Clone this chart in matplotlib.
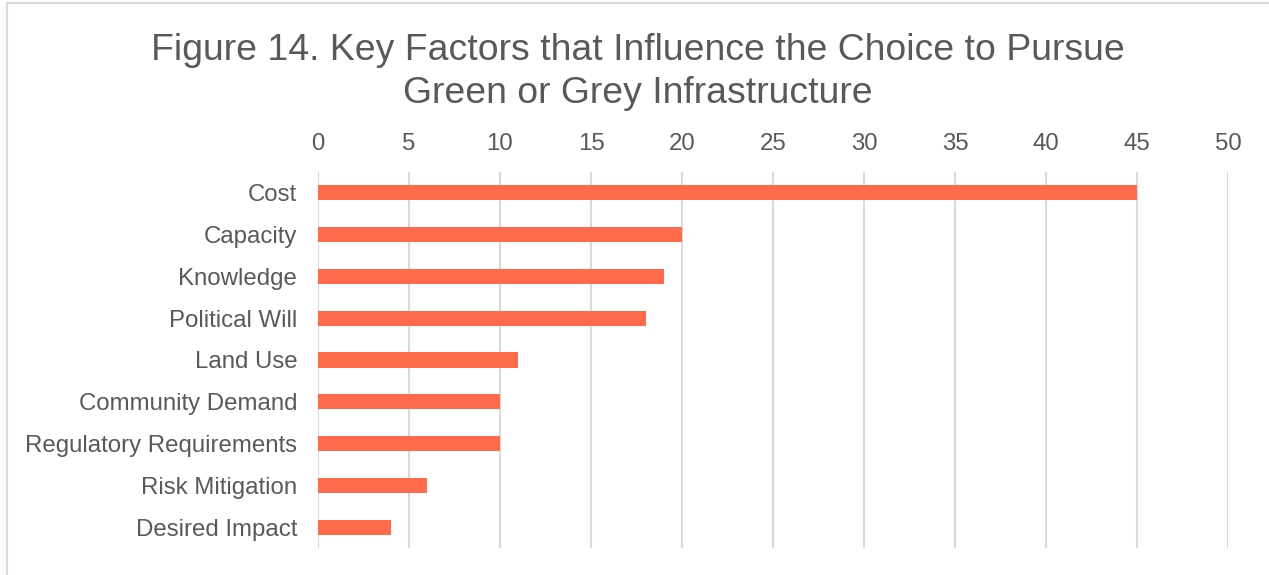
import matplotlib
matplotlib.use("Agg")
import matplotlib.pyplot as plt
from matplotlib.patches import Rectangle

# data
factors = ["Cost", "Capacity", "Knowledge", "Political Will", "Land Use",
           "Community Demand", "Regulatory Requirements", "Risk Mitigation",
           "Desired Impact"]
counts = [45, 20, 19, 18, 11, 10, 10, 6, 4]
xticks = [0, 5, 10, 15, 20, 25, 30, 35, 40, 45, 50]

plt.rcParams['font.family'] = ['Liberation Sans', 'DejaVu Sans']
txt = '#595959'
grid = '#D9D9D9'

fig = plt.figure(figsize=(12.69, 5.75), dpi=100)
ax = fig.add_axes([318 / 1269, 1 - 548 / 575, 910 / 1269, 376 / 575])

ypos = list(range(len(factors)))
ax.barh(ypos, counts, height=0.36, color='#FF6B4B', zorder=3)

ax.set_xlim(0, 50)
ax.set_ylim(len(factors) - 0.5, -0.5)
ax.set_xticks(xticks)
ax.set_yticks(ypos)
ax.set_yticklabels(factors)
ax.xaxis.tick_top()
ax.tick_params(axis='x', length=0, pad=12, labelsize=17.3, colors=txt)
ax.tick_params(axis='y', length=0, pad=15, labelsize=17.3, colors=txt)
ax.xaxis.grid(True, color=grid, linewidth=1.5, zorder=0)
for s in ax.spines.values():
    s.set_visible(False)

fig.text(0.503, 1 - 72 / 575, "Figure 14. Key Factors that Influence the Choice to Pursue\nGreen or Grey Infrastructure",
         ha='center', va='center', fontsize=26.9, color=txt, linespacing=1.27)

# chart frame
fig.patches.append(Rectangle((7 / 1269, -0.1), 1.2, 1 - 3 / 575 + 0.1, transform=fig.transFigure,
                             fill=False, edgecolor=grid, linewidth=1.5))

fig.savefig("out.png", dpi=100)
